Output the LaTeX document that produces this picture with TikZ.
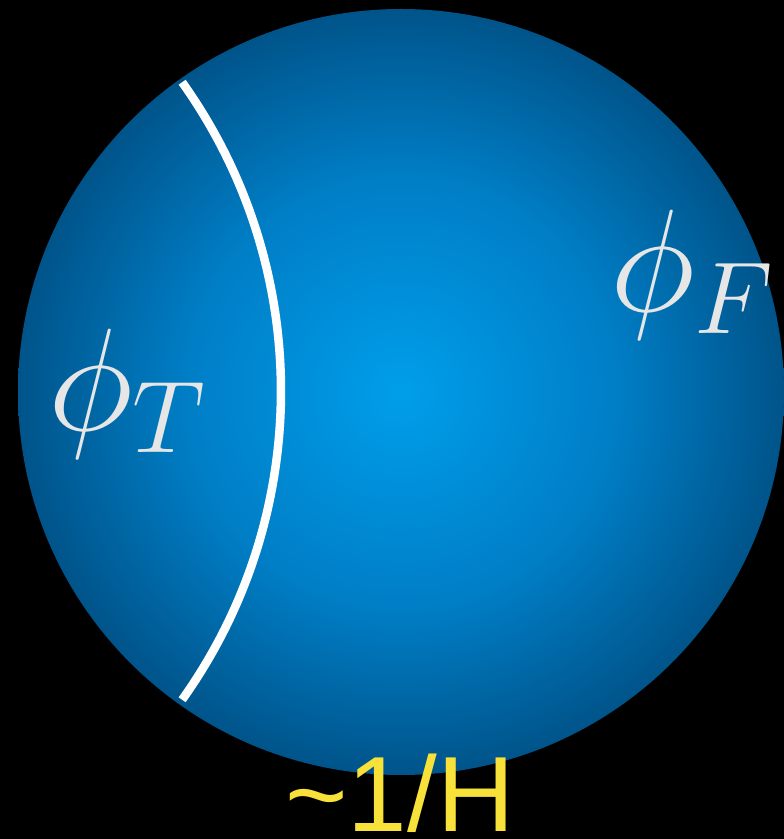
\RequirePackage{fix-cm}
\documentclass[tikz,border=0pt]{standalone}
\usepackage{fontspec}
\newfontfamily\arialish{Liberation Sans}
\definecolor{sphin}{RGB}{0,158,234}
\definecolor{sphmid}{RGB}{0,126,198}
\definecolor{sphout}{RGB}{0,84,138}
\definecolor{fieldgray}{RGB}{230,230,230}
\definecolor{hubyellow}{RGB}{248,226,58}
\pgfdeclareradialshading{sphereglow}{\pgfpoint{0bp}{0bp}}{color(0bp)=(sphin); color(14bp)=(sphmid); color(25bp)=(sphout); color(50bp)=(sphout)}

\begin{document}
\begin{tikzpicture}[x=1pt,y=1pt,field/.style={text=fieldgray,font=\fontsize{146}{160}\selectfont,inner sep=0pt,anchor=base west},hubble/.style={text=hubyellow,font=\arialish\fontsize{107}{120}\selectfont,inner sep=0pt,anchor=base},wall/.style={draw=white,line width=8.5pt}]
\fill[black](0,0)rectangle(784,839);
\useasboundingbox(0,0)rectangle(784,839);
% the patch
\shade[shading=sphereglow](401,447)circle[radius=383];
% domain wall
\draw[wall](-250.7,448)++(-35.5:531.7)arc[start angle=-35.5,end angle=35.5,radius=531.7];
\node[field](phiT)at(48,408){$\phi_T$};
\node[field](phiF)at(610,527){$\phi_F$};
\node[hubble](horizon)at(400,7){\textasciitilde1/H};
\end{tikzpicture}
\end{document}
